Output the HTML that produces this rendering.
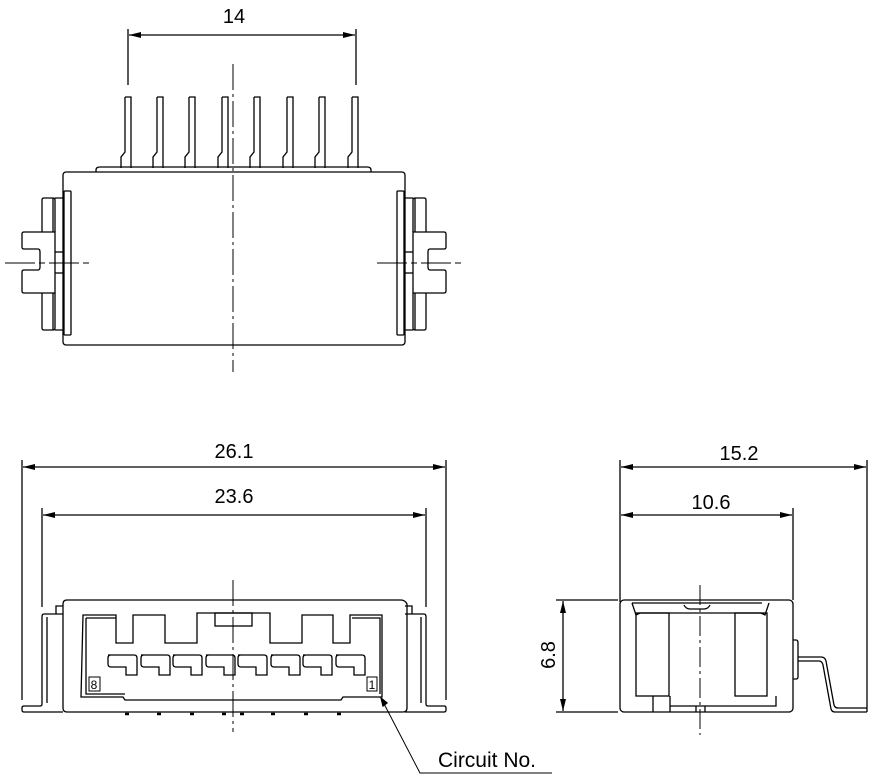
<!DOCTYPE html>
<html><head><style>html,body{margin:0;padding:0;background:#fff}svg{display:block}</style></head>
<body>
<svg width="874" height="780" viewBox="0 0 874 780" xmlns="http://www.w3.org/2000/svg" font-family="Liberation Sans, sans-serif">
<defs>
<marker id="a" viewBox="0 0 12 6" refX="12" refY="3" markerWidth="12" markerHeight="6" orient="auto-start-reverse" markerUnits="userSpaceOnUse"><path d="M0,0L12,3L0,6z" fill="#000"/></marker>
</defs>
<g fill="none" stroke="#000" stroke-width="1.3">
<!-- ===== TOP VIEW ===== -->
<line x1="128" y1="29" x2="128" y2="85"/><line x1="356" y1="29" x2="356" y2="85"/>
<line x1="129" y1="35" x2="355" y2="35" marker-start="url(#a)" marker-end="url(#a)"/>
<line x1="233" y1="64" x2="233" y2="372" stroke-dasharray="26,4,3,4" stroke-width="1"/>
<g>
<path d="M125,97h6v71M125,97v55l-4,5v11"/>
<path d="M157,97h6v71M157,97v55l-4,5v11"/>
<path d="M189,97h6v71M189,97v55l-4,5v11"/>
<path d="M222,97h6v71M222,97v55l-4,5v11"/>
<path d="M254,97h6v71M254,97v55l-4,5v11"/>
<path d="M287,97h6v71M287,97v55l-4,5v11"/>
<path d="M319,97h6v71M319,97v55l-4,5v11"/>
<path d="M352,97h6v71M352,97v55l-4,5v11"/>
</g>
<path d="M96,172v-2q0-3 4-3h267q4,0 4,3v2"/>
<rect x="63" y="172" width="342" height="173" rx="3"/>
<!-- left side -->
<rect x="64" y="191" width="7" height="144" rx="1"/>
<path d="M55,232v-32q0-2-2-2h-9q-2,0-2,2v32M42,293v35q0,2 2,2h9q2,0 2-2v-35M55,198h8M55,330h8"/>
<line x1="53" y1="198" x2="53" y2="232"/><line x1="53" y1="293" x2="53" y2="330"/>
<path d="M55,232h-31q-2,0-2,2v13q0,2 2,2h14q2,0 2,3v15q0,3-2,3h-14q-2,0-2,2v19q0,2 2,2h31z"/>
<line x1="55" y1="252" x2="63" y2="252"/><line x1="55" y1="273" x2="63" y2="273"/>
<line x1="5" y1="263" x2="90" y2="263" stroke-width="1" stroke-dasharray="30,4,6,4"/>
<!-- right side -->
<rect x="397" y="191" width="7" height="144" rx="1"/>
<path d="M413,232v-32q0-2 2-2h9q2,0 2,2v32M426,293v35q0,2-2,2h-9q-2,0-2-2v-35M405,198h8M405,330h8"/>
<line x1="415" y1="198" x2="415" y2="232"/><line x1="415" y1="293" x2="415" y2="330"/>
<path d="M413,232h31q2,0 2,2v13q0,2-2,2h-14q-2,0-2,3v15q0,3 2,3h14q2,0 2,2v19q0,2-2,2h-31z"/>
<line x1="405" y1="252" x2="413" y2="252"/><line x1="405" y1="273" x2="413" y2="273"/>
<line x1="377" y1="263" x2="463" y2="263" stroke-width="1" stroke-dasharray="30,4,6,4"/>

<!-- ===== FRONT VIEW ===== -->
<line x1="22" y1="460" x2="22" y2="700"/><line x1="446" y1="460" x2="446" y2="700"/>
<line x1="23" y1="467" x2="445" y2="467" marker-start="url(#a)" marker-end="url(#a)"/>
<line x1="42" y1="508" x2="42" y2="607"/><line x1="426" y1="508" x2="426" y2="607"/>
<line x1="43" y1="515" x2="425" y2="515" marker-start="url(#a)" marker-end="url(#a)"/>
<line x1="233" y1="580" x2="233" y2="732" stroke-dasharray="26,4,3,4" stroke-width="1"/>
<path d="M63,604q0-4 4-4h334q4,0 6,4v104q0,4-4,4h-336q-4,0-4-4z"/>
<path d="M63,614h-7v-8h7M56,614h-12q-2,0-2,3v87q0,2-2,2h-16q-2,0-2,2v2q0,2 2,2h39"/>
<line x1="47" y1="617" x2="47" y2="703"/>
<path d="M405,614h7v-8h-7M412,614h12q2,0 2,3v87q0,2 2,2h16q2,0 2,2v2q0,2-2,2h-39"/>
<line x1="421" y1="617" x2="421" y2="703"/>
<path d="M83,615h33v28h17v-28h32v28h32v-30h73v30h32v-28h31v28h17v-28h32v82h-39l-2,3h-216l-2-3h-42z"/>
<path d="M86,618h30M352,618h28v76M86,618v76h39"/>
<rect x="215" y="613" width="37" height="13"/>
<g>
<path d="M108,655h26q3,0 3,3v17h-11v-8h-15q-3,0-3-3v-6q0-3 3-3z"/>
<path d="M141,655h26q3,0 3,3v17h-11v-8h-15q-3,0-3-3v-6q0-3 3-3z"/>
<path d="M173,655h26q3,0 3,3v17h-11v-8h-15q-3,0-3-3v-6q0-3 3-3z"/>
<path d="M206,655h26q3,0 3,3v17h-11v-8h-15q-3,0-3-3v-6q0-3 3-3z"/>
<path d="M238,655h26q3,0 3,3v17h-11v-8h-15q-3,0-3-3v-6q0-3 3-3z"/>
<path d="M271,655h26q3,0 3,3v17h-11v-8h-15q-3,0-3-3v-6q0-3 3-3z"/>
<path d="M303,655h26q3,0 3,3v17h-11v-8h-15q-3,0-3-3v-6q0-3 3-3z"/>
<path d="M336,655h26q3,0 3,3v17h-11v-8h-15q-3,0-3-3v-6q0-3 3-3z"/>
</g>
<rect x="89" y="677" width="11" height="14" stroke-width="1"/>
<rect x="367" y="677" width="10" height="14" stroke-width="1"/>
<g stroke-width="2.5"><path d="M125,714h4M157,714h4M190,714h4M222,714h4M240,714h4M271,714h4M304,714h4M337,714h4"/></g>
<path d="M381,698L420,773H552" stroke-width="1"/>
<path d="M381,698l2,8l4,-3z" fill="#000"/>

<!-- ===== SIDE VIEW ===== -->
<line x1="620" y1="460" x2="620" y2="602"/><line x1="867" y1="460" x2="867" y2="712"/>
<line x1="621" y1="467" x2="866" y2="467" marker-start="url(#a)" marker-end="url(#a)"/>
<line x1="793" y1="508" x2="793" y2="600"/>
<line x1="621" y1="515" x2="792" y2="515" marker-start="url(#a)" marker-end="url(#a)"/>
<line x1="556" y1="600" x2="618" y2="600"/><line x1="556" y1="712" x2="618" y2="712"/>
<line x1="563" y1="601" x2="563" y2="711" marker-start="url(#a)" marker-end="url(#a)"/>
<line x1="700" y1="585" x2="700" y2="735" stroke-dasharray="20,4,3,4" stroke-width="1"/>
<rect x="620" y="600" width="173" height="112" rx="4"/>
<path d="M632,603h130M632,603l4,12l4,-2h121l4,2l4,-12M684,605q2,4 6,4h14q4,0 6,-4"/>
<rect x="636" y="613" width="33" height="83"/>
<rect x="735" y="613" width="32" height="83"/>
<path d="M670,696v16M653,696v16M670,706h106v-10M696,706v6M705,706v6"/>
<path d="M793,640h3q2,0 2,3v34q0,2-2,2h-3"/>
<path d="M798,657h23q4,0 5,4l8,44q1,3 4,3h29M798,661h21q3,0 4,4l8,44q1,3 4,3h32"/>
</g>
<g font-size="20" fill="#000" text-anchor="middle">
<text x="234" y="23">14</text>
<text x="234" y="458">26.1</text>
<text x="234" y="503">23.6</text>
<text x="739" y="460">15.2</text>
<text x="711" y="509">10.6</text>
<text x="487" y="767" font-size="21">Circuit No.</text>
<text transform="translate(555,655) rotate(-90)">6.8</text>
<text x="94" y="689" font-size="12">8</text>
<text x="372" y="689" font-size="12">1</text>
</g>
</svg>
</body></html>
